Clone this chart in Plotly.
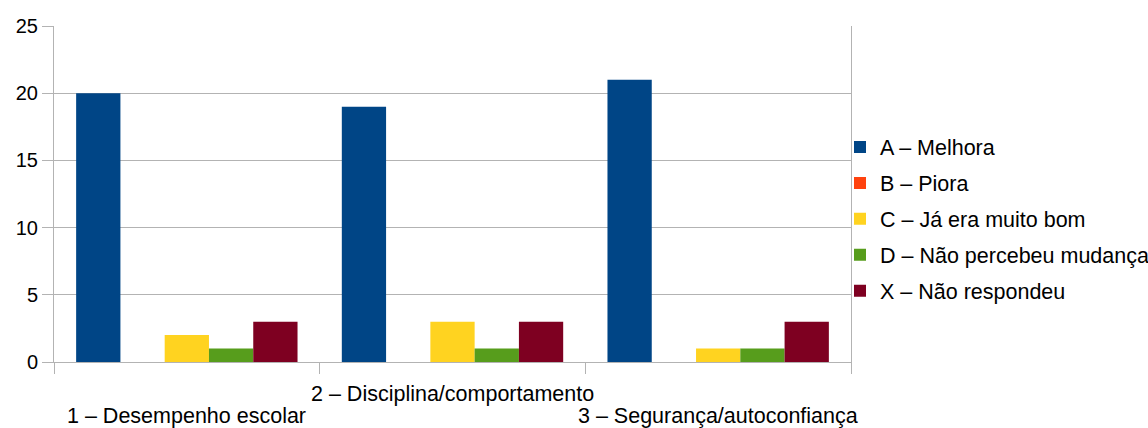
import plotly.graph_objects as go

categories = ["1 – Desempenho escolar", "2 – Disciplina/comportamento", "3 – Segurança/autoconfiança"]
series_names = ["A – Melhora", "B – Piora", "C – Já era muito bom", "D – Não percebeu mudança", "X – Não respondeu"]
values_A = [20, 19, 21]
values_B = [0, 0, 0]
values_C = [2, 3, 1]
values_D = [1, 1, 1]
values_X = [3, 3, 3]
colors = ["#004586", "#ff420e", "#ffd320", "#579d1c", "#7e0021"]
y_ticks = [0, 5, 10, 15, 20, 25]

FONT = "Liberation Sans, Arial, sans-serif"
GRID = "#b3b3b3"
LBL = 21.5

fig = go.Figure()
for i, (name, vals) in enumerate(zip(series_names, [values_A, values_B, values_C, values_D, values_X])):
    fig.add_trace(go.Bar(
        x=categories, y=vals, name=name,
        marker=dict(color=colors[i], line=dict(width=0)),
        legendgroup=f"g{i}",
    ))

# staggered category labels
for i, c in enumerate(categories):
    fig.add_annotation(
        x=c, xref="x", y=0, yref="paper", text=c, showarrow=False,
        xanchor="center", yanchor="middle",
        yshift=-(32 if i % 2 == 1 else 54),
        font=dict(family=FONT, size=LBL, color="#000000"),
    )

fig.update_layout(
    width=1148, height=428,
    margin=dict(l=54, r=297, t=26, b=66, autoexpand=False),
    paper_bgcolor="white", plot_bgcolor="white",
    barmode="group", bargap=1/6, bargroupgap=0,
    font=dict(family=FONT, size=20, color="#000000"),
    showlegend=True,
    legend=dict(
        x=0.9862, xanchor="left", y=0.4256, yanchor="middle",
        font=dict(family=FONT, size=LBL, color="#000000"),
        tracegroupgap=5, itemwidth=30,
        bgcolor="rgba(0,0,0,0)",
    ),
    xaxis=dict(
        type="category", range=[-0.5, len(categories) - 0.5], autorange=False,
        tickmode="array", tickvals=categories, ticktext=["", "", ""], tickangle=0,
        tickson="boundaries", ticks="outside", ticklen=11, tickcolor=GRID, tickwidth=1,
        showline=True, linecolor=GRID, linewidth=1,
        showgrid=False, automargin=False,
    ),
    yaxis=dict(
        range=[0, 25], tickvals=y_ticks,
        ticks="outside", ticklen=11, tickcolor=GRID, tickwidth=1,
        showline=True, linecolor=GRID, linewidth=1, mirror=True,
        showgrid=True, gridcolor=GRID, gridwidth=1,
        zeroline=False, tickfont=dict(size=20), automargin=False,
    ),
)

fig.write_html("out.html")
